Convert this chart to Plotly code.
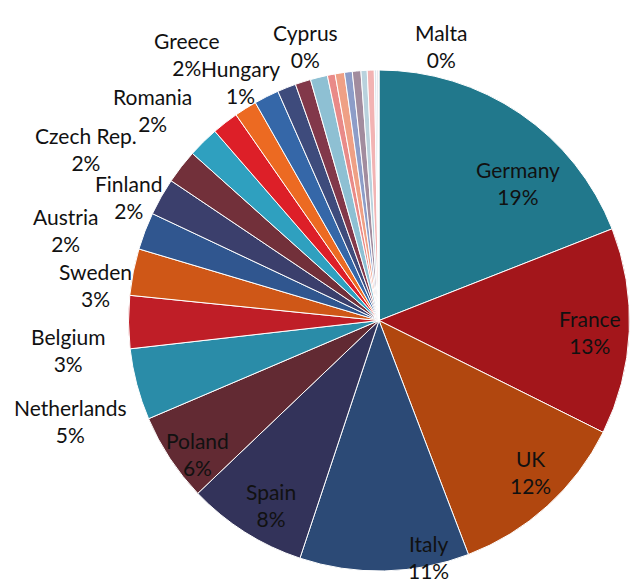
import plotly.graph_objects as go

countries = ["Germany", "France", "UK", "Italy", "Spain", "Poland", "Netherlands",
             "Belgium", "Sweden", "Austria", "Finland", "Czech Rep.", "Romania",
             "Greece", "Hungary", "Portugal", "Denmark", "Slovakia", "Ireland",
             "Bulgaria", "Croatia", "Slovenia", "Lithuania", "Luxembourg", "Latvia",
             "Estonia", "Cyprus", "Malta"]
shares = [19.0, 13.3, 11.8, 10.9, 7.75, 5.7, 4.6,
          3.4, 3.0, 2.4, 2.4, 2.2, 2.0,
          1.7, 1.45, 1.6, 1.2, 1.0, 1.1,
          0.5, 0.6, 0.5, 0.55, 0.4, 0.45,
          0.15, 0.1, 0.05]

colors = ["#21788C", "#A3161B", "#B1470F", "#2C4A76", "#33335A", "#622A33", "#2A8CA8",
          "#BF1E27", "#CF5717", "#30568F", "#3B3F6C", "#72303A", "#2FA0BF",
          "#DD1F28", "#EC6A22", "#3567A8", "#3E4B7C", "#82384A", "#8EC0D3",
          "#E98A88", "#EFA085", "#8D9DC8", "#A28C9E", "#B9D2DD", "#F2B3B3",
          "#DDE6EC", "#C9CFE0", "#F0C8C8"]

# label placement (pixel centre of each two-line label block) - layout only
label_pos = {
    "Germany": (518, 183), "France": (590, 332), "UK": (530, 472),
    "Italy": (428, 557), "Spain": (271, 505), "Poland": (197, 454),
    "Netherlands": (70, 421), "Belgium": (68, 350), "Sweden": (96, 285),
    "Austria": (65, 230), "Finland": (128, 197), "Czech Rep.": (86, 149),
    "Romania": (152, 110), "Greece": (187, 54), "Hungary": (240, 82),
    "Cyprus": (305, 46), "Malta": (441, 46),
}

W, H = 637, 585
total = sum(shares)
font = dict(family="Lato, Open Sans, sans-serif", size=21, color="#111111")

fig = go.Figure(go.Pie(
    labels=countries,
    values=shares,
    sort=False,
    direction="clockwise",
    rotation=0,
    marker=dict(colors=colors, line=dict(color="white", width=1)),
    textinfo="none",
    domain=dict(x=[128 / W, 630 / W], y=[1 - 571 / H, 1 - 70 / H]),
    showlegend=False,
    automargin=False,
))

for name, val in zip(countries, shares):
    if name in label_pos:
        px, py = label_pos[name]
        fig.add_annotation(
            x=px / W, y=1 - py / H, xref="paper", yref="paper",
            xanchor="center", yanchor="middle",
            text=f"{name}<br>{round(100 * val / total)}%",
            showarrow=False, font=font, align="center",
        )

fig.update_layout(
    width=W, height=H,
    margin=dict(l=0, r=0, t=0, b=0),
    paper_bgcolor="white",
    showlegend=False,
)
fig.write_html("out.html")
